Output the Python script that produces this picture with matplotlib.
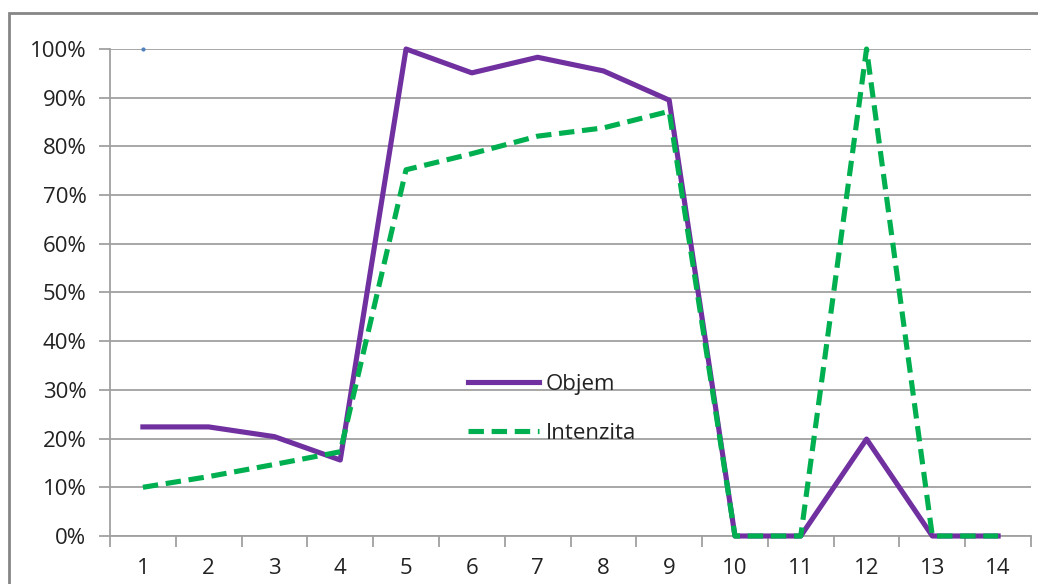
import numpy as np
import matplotlib.pyplot as plt
from matplotlib.patches import Rectangle
from matplotlib.ticker import PercentFormatter, MultipleLocator

# Data
categories = list(range(1, 15))
objem = [0.224, 0.224, 0.204, 0.156, 1.00, 0.951, 0.983, 0.955, 0.895,
         0.0, 0.0, 0.199, 0.0, 0.0]
intenzita = [0.100, 0.122, 0.147, 0.173, 0.752, 0.785, 0.821, 0.838, 0.872,
             0.0, 0.0, 1.00, 0.0, 0.0]
blue_point = [1.00] + [np.nan] * 13

plt.rcParams['font.family'] = ['Open Sans', 'DejaVu Sans']
fs = 16

fig = plt.figure(figsize=(10.38, 5.84), dpi=100)
ax = fig.add_axes([110 / 1038, 1 - 536 / 584, 921 / 1038, 487 / 584])

# outer chart frame (cut off at right and bottom in the reference)
fig.patches.append(Rectangle((8.5 / 1038, -0.1), 1.2, 1 - 13.5 / 584 + 0.1,
                             transform=fig.transFigure, fill=False,
                             edgecolor='#868686', linewidth=2))

x = np.array(categories)
ax.plot(x, blue_point, color='#4F81BD', marker='o', markersize=2,
        linestyle='none', clip_on=False, zorder=3)
ax.plot(x, objem, color='#7030A0', linewidth=3.7, label='Objem',
        clip_on=False, zorder=4)
ax.plot(x, intenzita, color='#00B050', linewidth=3.7, linestyle=(0, (3.0, 1.5)),
        label='Intenzita', clip_on=False, zorder=5)

ax.set_xlim(0.5, 14.5)
ax.set_ylim(0, 1)
ax.yaxis.set_major_locator(MultipleLocator(0.1))
ax.yaxis.set_major_formatter(PercentFormatter(1.0, decimals=0))
ax.set_xticks(categories)
ax.set_xticks(np.arange(0.5, 15, 1), minor=True)

ax.grid(axis='y', color='#A0A0A0', linewidth=1.3)
ax.set_axisbelow(True)
for s in ['top', 'right']:
    ax.spines[s].set_visible(False)
ax.spines['left'].set_color('#A0A0A0')
ax.spines['bottom'].set_color('#A0A0A0')
ax.spines['left'].set_linewidth(1.3)
ax.spines['bottom'].set_linewidth(1.3)

ax.tick_params(axis='y', length=8, color='#A0A0A0', width=1.3,
               labelsize=fs, labelcolor='#222222', pad=9)
ax.tick_params(axis='x', which='major', length=0, labelsize=fs,
               labelcolor='#222222', pad=16)
ax.tick_params(axis='x', which='minor', length=8, color='#A0A0A0', width=1.3)

leg = ax.legend(loc='upper left', bbox_to_anchor=(0.389, 0.333), frameon=False,
                fontsize=fs, handlelength=3.2, handletextpad=0.3,
                labelspacing=1.25, borderaxespad=0, borderpad=0)
for t in leg.get_texts():
    t.set_color('#222222')

fig.savefig('out.png', dpi=100)
